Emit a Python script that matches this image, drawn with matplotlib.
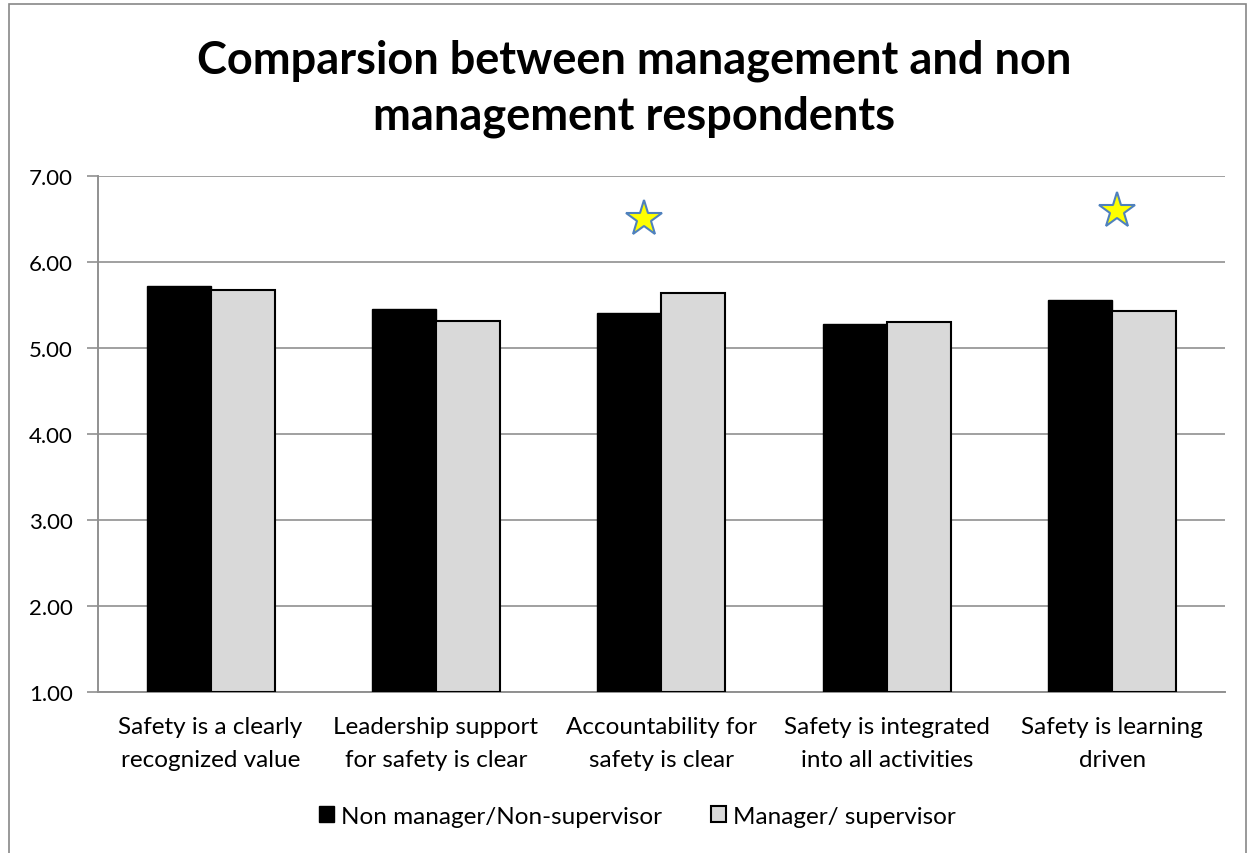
import numpy as np
import matplotlib.pyplot as plt
from matplotlib.patches import Rectangle

plt.rcParams['font.family'] = ['Lato', 'DejaVu Sans']

categories = ['Safety is a clearly\nrecognized value',
              'Leadership support\nfor safety is clear',
              'Accountability for\nsafety is clear',
              'Safety is integrated\ninto all activities',
              'Safety is learning\ndriven']
non_manager = [5.72, 5.45, 5.41, 5.28, 5.56]
manager = [5.68, 5.31, 5.64, 5.30, 5.43]
series_names = ['Non manager/Non-supervisor', 'Manager/ supervisor']

# stars marking significant differences (category index, value)
star_cat = [2, 4]
star_val = [6.50, 6.60]
star_offset = [-0.075, 0.02]

fig = plt.figure(figsize=(12.55, 8.54), dpi=100)
ax = fig.add_axes([0.078, 0.1885, 0.898, 0.604])

x = np.arange(len(categories))
w = 0.284
base = 1.0
ax.bar(x - w / 2, np.array(non_manager) - base, w, bottom=base, color='black',
       edgecolor='black', linewidth=1, label=series_names[0], zorder=3)
ax.bar(x + w / 2, np.array(manager) - base, w, bottom=base, color='#d9d9d9',
       edgecolor='black', linewidth=1.5, label=series_names[1], zorder=3)

ax.plot(np.array(star_cat) + np.array(star_offset), star_val, linestyle='none',
        marker='*', markersize=27, markerfacecolor='#ffff00',
        markeredgecolor='#4f81bd', markeredgewidth=1.5, zorder=4)

ax.set_xlim(-0.5, len(categories) - 0.5)
ax.set_ylim(1, 7)
ax.set_yticks(np.arange(1, 8, 1))
ax.set_yticklabels(['%.2f' % v for v in np.arange(1, 8, 1)], fontsize=16)
ax.set_xticks(x)
ax.set_xticklabels(categories, fontsize=17.5, linespacing=1.75)
ax.tick_params(axis='x', length=0, pad=17)
ax.tick_params(axis='y', length=8, color='#909090', width=1.2, pad=10)
ax.grid(axis='y', color='#a0a0a0', linewidth=1.4, zorder=0)
ax.set_axisbelow(True)
for s in ['top', 'right']:
    ax.spines[s].set_visible(False)
for s in ['left', 'bottom']:
    ax.spines[s].set_color('#909090')
    ax.spines[s].set_linewidth(1.4)

fig.text(0.505, 0.896, 'Comparsion between management and non\nmanagement respondents',
         ha='center', va='center', fontsize=32.5, fontweight='bold', linespacing=1.4)

leg = fig.legend(loc='center', bbox_to_anchor=(0.508, 0.043), ncol=2, frameon=False,
                 fontsize=17.5, handlelength=0.6, handleheight=0.6, handletextpad=0.3,
                 columnspacing=2)

fig.patches.append(Rectangle((0.007, -0.01), 0.986, 1.004, transform=fig.transFigure,
                             fill=False, edgecolor='#888888', linewidth=1.2))

fig.savefig('out.png', dpi=100)
